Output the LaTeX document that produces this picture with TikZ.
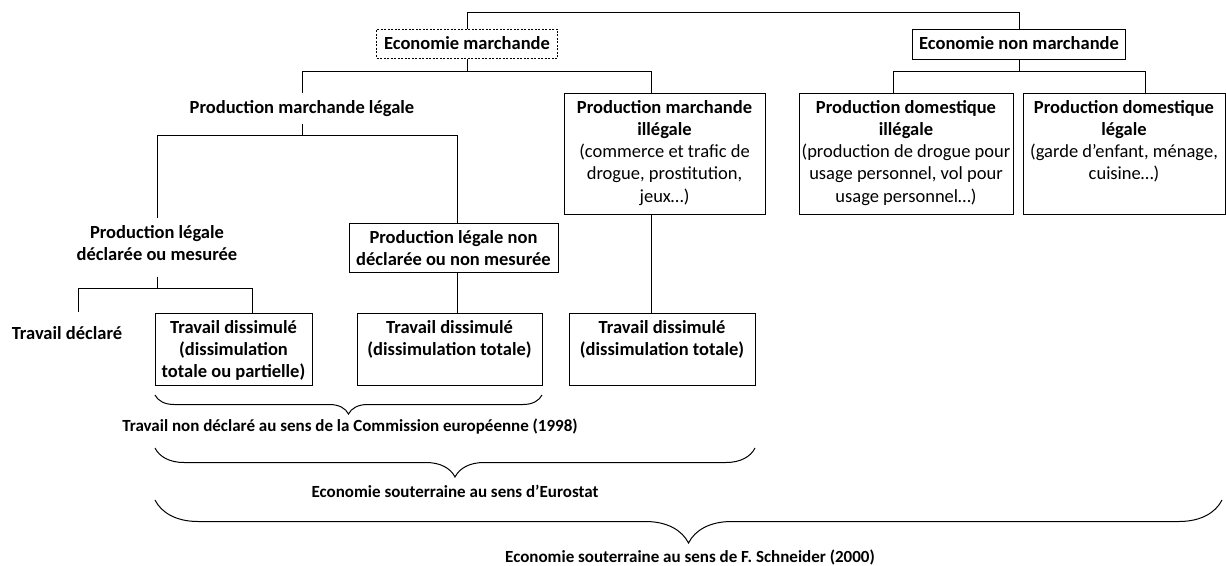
\documentclass[tikz,border=0pt]{standalone}
\usepackage{fontspec}
\setmainfont{Carlito}
\usetikzlibrary{decorations.pathreplacing}
\newcommand{\bx}[3]{\parbox[c][#2pt][t]{#1pt}{\centering\rule{0pt}{20pt}#3}}

\begin{document}
\begin{tikzpicture}[x=1pt, y=-1pt, line width=1pt,
    rect/.style={draw, rectangle, inner sep=0pt, font=\fontsize{18.5}{22.3}\selectfont},
    txt/.style={rect, draw=none},
    dashbox/.style={rect, dash pattern=on 2pt off 1.5pt},
    accol/.style={decorate, decoration={brace, mirror, amplitude=#1}},
    legend/.style={anchor=base, inner sep=0pt, font=\fontsize{17}{19}\selectfont\bfseries}]
    \useasboundingbox (0,0) rectangle (1226,565);

    % Top level
    \node[dashbox] (em) at (467,43.5) {\bx{181}{29}{\textbf{Economie marchande}}};
    \node[rect] (enm) at (1019,44) {\bx{213}{30}{\textbf{Economie non marchande}}};

    % Second level
    \node[txt] (pml) at (302,108) {\bx{250}{30}{\textbf{Production marchande légale}}};
    \node[rect] (pmi) at (664.5,153.5) {\bx{201}{121}{\textbf{Production marchande\\illégale}\\(commerce et trafic de\\drogue, prostitution,\\jeux…)}};
    \node[rect] (pdi) at (906,153.5) {\bx{214}{121}{\textbf{Production domestique\\illégale}\\(production de drogue pour\\usage personnel, vol pour\\usage personnel…)}};
    \node[rect] (pdl) at (1124,153.5) {\bx{202}{121}{\textbf{Production domestique\\légale}\\(garde d’enfant, ménage,\\cuisine…)}};

    % Third level
    \node[txt] (pldm) at (157,247) {\bx{170}{58}{\textbf{Production légale\\déclarée ou mesurée}}};
    \node[rect] (plnd) at (453.5,247.5) {\bx{209}{49}{\textbf{Production légale non\\déclarée ou non mesurée}}};

    % Fourth level
    \node[txt] (tdecl) at (67,334) {\bx{124}{30}{\textbf{Travail déclaré}}};
    \node[rect] (td1) at (233.5,349) {\bx{157}{72}{\textbf{Travail dissimulé\\(dissimulation\\totale ou partielle)}}};
    \node[rect] (td2) at (449.5,349) {\bx{185}{72}{\textbf{Travail dissimulé\\(dissimulation totale)}}};
    \node[rect] (td3) at (662,349) {\bx{186}{72}{\textbf{Travail dissimulé\\(dissimulation totale)}}};

    % Connectors
    \coordinate (pmi-in) at (651,93);
    \coordinate (pdi-in) at (893,93);
    \coordinate (pdl-in) at (1145,93);
    \coordinate (plnd-in) at (457,223);
    \coordinate (tdecl-in) at (78,312);
    \coordinate (td1-in) at (252,313);

    \draw (em.north) -- ++(0,-16) -| (enm.north);
    \draw (em.south) -- ++(0,13) coordinate (em-j);
    \draw (pml.north) |- (em-j) -| (pmi-in);
    \draw (enm.south) -- ++(0,12) coordinate (enm-j);
    \draw (pdi-in) |- (enm-j) -| (pdl-in);
    \draw (pml.south) -- ++(0,12) coordinate (pml-j);
    \draw (pldm.north) |- (pml-j) -| (plnd-in);
    \draw (plnd-in |- plnd.south) -- (plnd-in |- td2.north);
    \draw (pmi-in |- pmi.south) -- (pmi-in |- td3.north);
    \draw (pldm.south) -- ++(0,12) coordinate (pldm-j);
    \draw (tdecl-in) |- (pldm-j) -| (td1-in);

    % Braces
    \draw[accol=19] (155,395) -- (542,395);
    \draw[accol=29] (155,448) -- (755,448);
    \draw[accol=43] (155,500) -- (1222,500);

    \node[legend] (lab1) at (350,431) {Travail non déclaré au sens de la Commission européenne (1998)};
    \node[legend] (lab2) at (455,497) {Economie souterraine au sens d’Eurostat};
    \node[legend] (lab3) at (690,562) {Economie souterraine au sens de F. Schneider (2000)};
\end{tikzpicture}
\end{document}
